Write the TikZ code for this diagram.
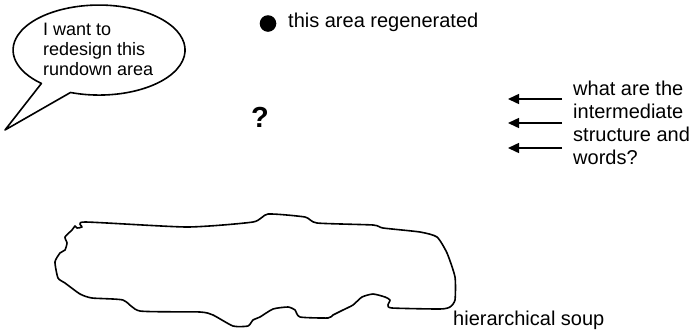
\documentclass[tikz,border=0pt]{standalone}
\usepackage{fontspec}
\setmainfont{Liberation Sans}
\usetikzlibrary{arrows.meta}
\begin{document}
\begin{tikzpicture}[x=1pt,y=-1pt,
  lbl/.style={anchor=base west,inner sep=0pt,font=\fontsize{20}{23}\selectfont},
  bubtxt/.style={anchor=base west,inner sep=0pt,font=\fontsize{18}{20}\selectfont},
  outline/.style={draw=black,line width=1.6pt,line join=round},
  leftarrow/.style={-{Triangle[length=11pt,width=10pt]},line width=1.5pt}]
\useasboundingbox[fill=white] (0,0) rectangle (691,333);
% speech bubble
\draw[outline] (5,130) -- (70.5,92.5)
  arc[start angle=250.6,end angle=587.9,x radius=86pt,y radius=45pt] -- cycle;
\node[bubtxt] (b1) at (43,35) {I want to};
\node[bubtxt] (b2) at (43,55) {redesign this};
\node[bubtxt] (b3) at (43,75) {rundown area};
% goal
\fill (268,23.5) circle[radius=8.3pt];
\node[lbl] (goal) at (288,27.5) {this area regenerated};
% question mark
\node[anchor=base west,inner sep=0pt,font=\fontsize{29}{30}\selectfont\bfseries] (q) at (251,127) {?};
% question text
\node[lbl] (w1) at (573,95) {what are the};
\node[lbl] (w2) at (573,118.3) {intermediate};
\node[lbl] (w3) at (573,141.6) {structure and};
\node[lbl] (w4) at (573,164.9) {words?};
% arrows
\coordinate (a1s) at (562,99);  \coordinate (a1e) at (508,99);
\coordinate (a2s) at (562,123); \coordinate (a2e) at (508,123);
\coordinate (a3s) at (562,148); \coordinate (a3e) at (508,148);
\draw[leftarrow] (a1s) -- (a1e);
\draw[leftarrow] (a2s) -- (a2e);
\draw[leftarrow] (a3s) -- (a3e);
% soup blob
\draw[outline] plot[smooth cycle,tension=0.35] coordinates {
 (85,222) (187,227) (253,222) (268,214) (305,217) (317,223) (373,225) (383,228)
 (420,232) (437,237) (447,253) (455,277) (455,300) (450,307) (440,309) (392,308)
 (388,305) (390,300) (385,297) (373,294) (362,297) (353,305) (343,310) (333,315)
 (328,318) (300,317) (295,310) (288,307) (273,309) (260,317) (253,320) (248,326)
 (233,326) (213,315) (200,312) (140,311) (123,300) (92,298) (80,294) (65,283)
 (58,278) (55,262) (60,253) (65,250) (67,243) (65,237) (72,230) (75,226)
 (77,228) (82,227)};
\node[lbl] (soup) at (453,325) {hierarchical soup};
\end{tikzpicture}
\end{document}
